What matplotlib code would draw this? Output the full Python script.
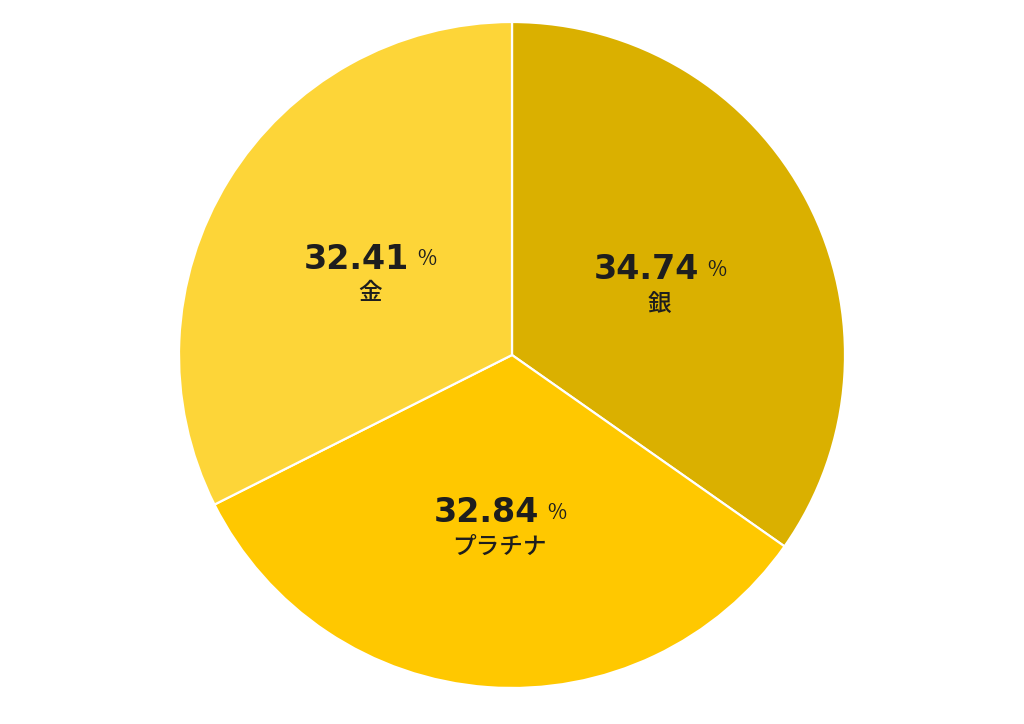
import matplotlib
matplotlib.use("Agg")
import matplotlib.pyplot as plt
import numpy as np

labels = ["銀", "プラチナ", "金"]
values = [34.74, 32.84, 32.41]
colors = ["#DAB000", "#FFC800", "#FDD538"]

plt.rcParams['font.family'] = ['Noto Sans CJK JP', 'DejaVu Sans']

W, H = 1024, 724
dpi = 100
fig = plt.figure(figsize=(W / dpi, H / dpi), dpi=dpi)
cx, cy, R = 512, 355, 333
ax = fig.add_axes([(cx - R) / W, (H - cy - R) / H, 2 * R / W, 2 * R / H])
wedges, _ = ax.pie(values, colors=colors, startangle=90, counterclock=False,
                   radius=1.0, wedgeprops=dict(edgecolor="white", linewidth=1.6))
ax.set_xlim(-1, 1)
ax.set_ylim(-1, 1)
ax.set_aspect("equal")
ax.axis("off")

fig.canvas.draw()
renderer = fig.canvas.get_renderer()
px = R  # pixels per data unit
for w, lab, val in zip(wedges, labels, values):
    ang = np.deg2rad((w.theta1 + w.theta2) / 2)
    x, y = 0.5 * np.cos(ang), 0.5 * np.sin(ang)
    ny = y + 12 / px
    t1 = ax.text(0, ny, f"{val:.2f}", fontsize=24, fontweight="bold",
                 family="DejaVu Sans", color="#1E1E1E", ha="left", va="center_baseline")
    t2 = ax.text(0, ny - 1 / px, "%", fontsize=15, color="#1E1E1E",
                 ha="left", va="center_baseline")
    e1 = t1.get_window_extent(renderer)
    e2 = t2.get_window_extent(renderer)
    gap = 8
    total = e1.width + gap + e2.width
    x0 = x - total / 2 / px
    t1.set_x(x0)
    t2.set_x(x0 + (e1.width + gap) / px)
    ax.text(x, y - 26 / px, lab, fontsize=17, fontweight="medium", color="#1E1E1E",
            ha="center", va="center")

fig.savefig("out.png", dpi=dpi, facecolor="white")
